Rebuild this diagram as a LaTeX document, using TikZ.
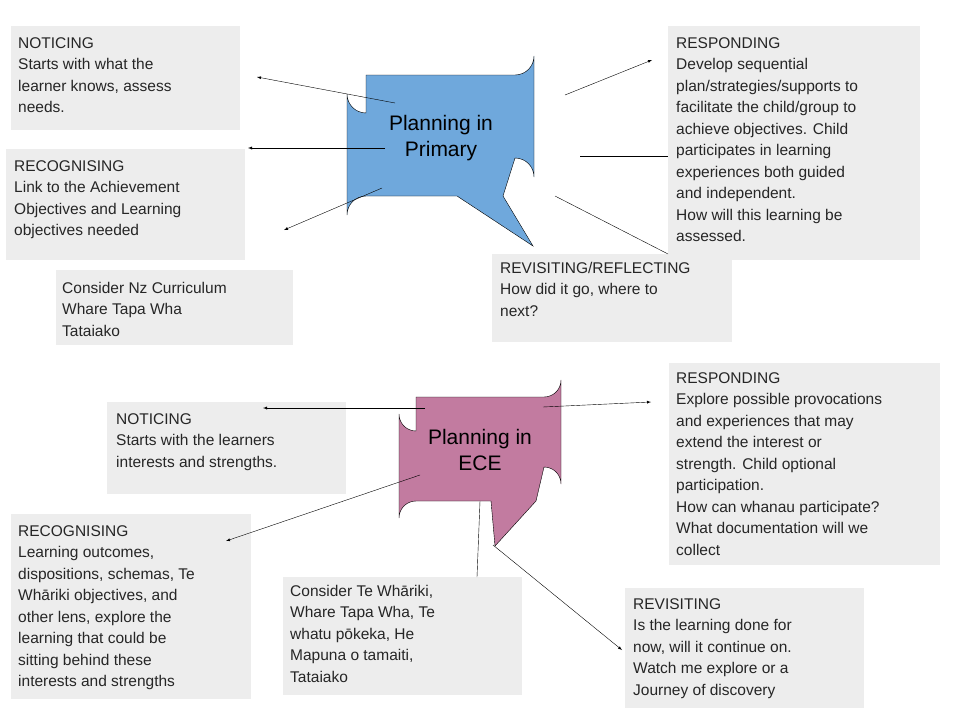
\documentclass[tikz,border=0pt]{standalone}
\usepackage{fontspec}
\setmainfont{Liberation Sans}
\begin{document}
\begin{tikzpicture}[x=1pt,y=-1pt,
  gbox/.style={fill=black!7,draw=none},
  txt/.style={anchor=north west,align=left,inner sep=0pt,font=\fontsize{15.5}{21.5}\selectfont,text=black!85},
  big/.style={align=center,font=\fontsize{21}{26}\selectfont},
  arr/.style={-latex,thin},
  ln/.style={thin}]
\useasboundingbox[fill=white] (0,0) rectangle (960,720);
% gray boxes
\fill[gbox] (11,26) rectangle (240,130);
\fill[gbox] (6,149) rectangle (245,260);
\fill[gbox] (56,270) rectangle (293,345);
\fill[gbox] (668,26) rectangle (920,260);
\fill[gbox] (492,254) rectangle (732,342);
\fill[gbox] (107,402) rectangle (346,494);
\fill[gbox] (669,363) rectangle (940,565);
\fill[gbox] (11,514) rectangle (251,699);
\fill[gbox] (283,577) rectangle (522,695);
\fill[gbox] (625,588) rectangle (864,708);
% texts
\node[txt] (n1) at (18,37) {NOTICING\\Starts with what the\\learner knows, assess\\needs.};
\node[txt] (r1) at (14,160) {RECOGNISING\\Link to the Achievement\\Objectives and Learning\\objectives needed};
\node[txt] (c1) at (62,282) {Consider Nz Curriculum\\Whare Tapa Wha\\Tataiako};
\node[txt] (s1) at (676,37) {RESPONDING\\Develop sequential\\plan/strategies/supports to\\facilitate the child/group to\\achieve objectives. Child\\participates in learning\\experiences both guided\\and independent.\\How will this learning be\\assessed.};
\node[txt] (v1) at (500,262) {REVISITING/REFLECTING\\How did it go, where to\\next?};
\node[txt] (n2) at (116,413) {NOTICING\\Starts with the learners\\interests and strengths.};
\node[txt] (s2) at (676,372) {RESPONDING\\Explore possible provocations\\and experiences that may\\extend the interest or\\strength. Child optional\\participation.\\How can whanau participate?\\What documentation will we\\collect};
\node[txt] (r2) at (18,525) {RECOGNISING\\Learning outcomes,\\dispositions, schemas, Te\\Wh\=ariki objectives, and\\other lens, explore the\\learning that could be\\sitting behind these\\interests and strengths};
\node[txt] (c2) at (290,585) {Consider Te Wh\=ariki,\\Whare Tapa Wha, Te\\whatu p\=okeka, He\\Mapuna o tamaiti,\\Tataiako};
\node[txt] (v2) at (633,598) {REVISITING\\Is the learning done for\\now, will it continue on.\\Watch me explore or a\\Journey of discovery};
% callouts
\draw[fill=blue!45!cyan!55!white,fill=blue!35!cyan!45!gray!60,fill={rgb,255:red,111;green,168;blue,220}]
  (366,75) -- (515,75) arc[start angle=90,end angle=0,radius=19] -- (534,177) arc[start angle=0,end angle=-90,radius=19]
  -- (503,196) -- (533,246) -- (457,196) -- (366,196) arc[start angle=270,end angle=180,radius=19] -- (347,94) arc[start angle=180,end angle=90,radius=19] -- cycle;
\node[big] (p1) at (441,138) {Planning in\\Primary};
\draw[fill={rgb,255:red,194;green,123;blue,160}]
  (416,397) -- (544,397) arc[start angle=90,end angle=0,radius=17] -- (561,484) arc[start angle=0,end angle=-90,radius=17]
  -- (536,501) -- (495,546) -- (491,501) -- (416,501) arc[start angle=270,end angle=180,radius=17] -- (399,414) arc[start angle=180,end angle=90,radius=17] -- cycle;
\node[big] (p2) at (480,450) {Planning in\\ECE};
% connectors
\coordinate (a1) at (395,103); \coordinate (b1) at (257,77);
\coordinate (a2) at (385,148); \coordinate (b2) at (248,148);
\coordinate (a3) at (382,188); \coordinate (b3) at (284,230);
\coordinate (a4) at (565,95);  \coordinate (b4) at (652,60);
\coordinate (a5) at (580,156); \coordinate (b5) at (668,156);
\coordinate (a6) at (555,196); \coordinate (b6) at (668,254);
\draw[arr] (a1) -- (b1); \draw[arr] (a2) -- (b2); \draw[arr] (a3) -- (b3);
\draw[arr] (a4) -- (b4); \draw[ln] (a5) -- (b5); \draw[ln] (a6) -- (b6);
\coordinate (e1) at (425,408); \coordinate (f1) at (263,408);
\coordinate (e2) at (543,407); \coordinate (f2) at (651,402);
\coordinate (e3) at (420,475); \coordinate (f3) at (226,541);
\coordinate (e4) at (480,501); \coordinate (f4) at (477,577);
\coordinate (e5) at (493,545); \coordinate (f5) at (622,650);
\draw[arr] (e1) -- (f1); \draw[arr] (e2) -- (f2); \draw[arr] (e3) -- (f3);
\draw[ln] (e4) -- (f4); \draw[arr] (e5) -- (f5);
\end{tikzpicture}
\end{document}
